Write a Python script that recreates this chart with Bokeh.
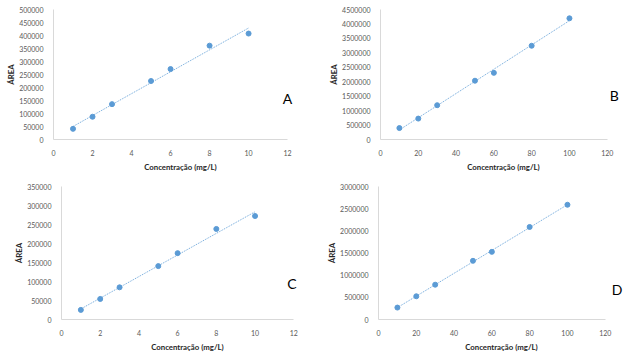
from bokeh.plotting import figure
from bokeh.layouts import column, row
from bokeh.models import FixedTicker, Label, Range1d
from bokeh.embed import file_html
from bokeh.resources import INLINE
import numpy as np

# ---- data ----
xA = [1, 2, 3, 5, 6, 8, 10]
yA = [41000, 87500, 136000, 225000, 271000, 361000, 407500]
xB = [10, 20, 30, 50, 60, 80, 100]
yB = [396000, 724000, 1187000, 2035000, 2307000, 3245000, 4195000]
xC = [1, 2, 3, 5, 6, 8, 10]
yC = [25300, 54100, 84700, 140500, 174600, 238300, 272300]
xD = [10, 20, 30, 50, 60, 80, 100]
yD = [269000, 524000, 785000, 1324000, 1526000, 2087000, 2588000]

x_label = "Concentração (mg/L)"
y_label = "ÁREA"
letters = ["A", "B", "C", "D"]

BLUE = "#5B9BD5"
FONT = "Lato"


def panel(xs, ys, xmax, xstep, ymax, ystep, letter, lpos, w, h, l, axis_px, t, b):
    xend = xmax * 1.085
    frame_w = axis_px * xend / xmax
    r = int(round(w - l - frame_w))
    p = figure(width=w, height=h, output_backend="svg", toolbar_location=None,
               x_range=Range1d(0, xend), y_range=Range1d(0, ymax),
               min_border_left=l, min_border_right=r, min_border_top=t, min_border_bottom=b)
    p.outline_line_color = None
    p.grid.grid_line_color = None
    p.background_fill_color = "white"
    p.border_fill_color = "white"
    p.xaxis.bounds = (0, xmax)
    p.xaxis.ticker = FixedTicker(ticks=list(np.arange(0, xmax + 0.001, xstep)))
    p.yaxis.ticker = FixedTicker(ticks=list(np.arange(0, ymax + 1, ystep)))
    for ax in (p.xaxis, p.yaxis):
        ax.axis_line_color = "#D9D9D9"
        ax.major_tick_line_color = None
        ax.minor_tick_line_color = None
        ax.major_label_text_color = "#595959"
        ax.major_label_text_font = FONT
        ax.major_label_text_font_size = "7px"
        ax.axis_label_text_font = FONT
        ax.axis_label_text_font_style = "bold"
        ax.axis_label_text_font_size = "7.8px"
        ax.axis_label_text_color = "#262626"
    p.yaxis.formatter.use_scientific = False
    p.xaxis.axis_label = x_label
    p.yaxis.axis_label = y_label
    p.xaxis.major_label_standoff = 4
    p.yaxis.major_label_standoff = 4
    p.xaxis.axis_label_standoff = 3
    p.yaxis.axis_label_standoff = 0

    k, c = np.polyfit(xs, ys, 1)
    x0, x1 = min(xs), max(xs)
    p.line([x0, x1], [k * x0 + c, k * x1 + c], line_color=BLUE, line_width=1,
           line_dash="1 1", line_alpha=0.9)
    p.scatter(xs, ys, size=5, fill_color=BLUE, line_color=BLUE)
    p.add_layout(Label(x=lpos[0], y=lpos[1], text=letter, text_align="center",
                       text_baseline="middle", text_font=FONT, text_font_size="14px",
                       text_color="black"))
    return p


pA = panel(xA, yA, 12, 2, 500000, 50000, letters[0], (12.0, 158000), 320, 177, 53, 234, 6, 38)
pB = panel(xB, yB, 120, 20, 4500000, 500000, letters[1], (123.7, 1516000), 320, 177, 60, 227, 9, 35)
pC = panel(xC, yC, 12, 2, 350000, 50000, letters[2], (11.9, 93500), 320, 178, 61, 232.7, 9, 35)
pD = panel(xD, yD, 120, 20, 3000000, 500000, letters[3], (126.3, 673000), 320, 178, 58, 227, 8, 36)

layout = column(row(pA, pB, spacing=0), row(pC, pD, spacing=0), spacing=0)
open("out.html", "w").write(file_html(layout, INLINE))
